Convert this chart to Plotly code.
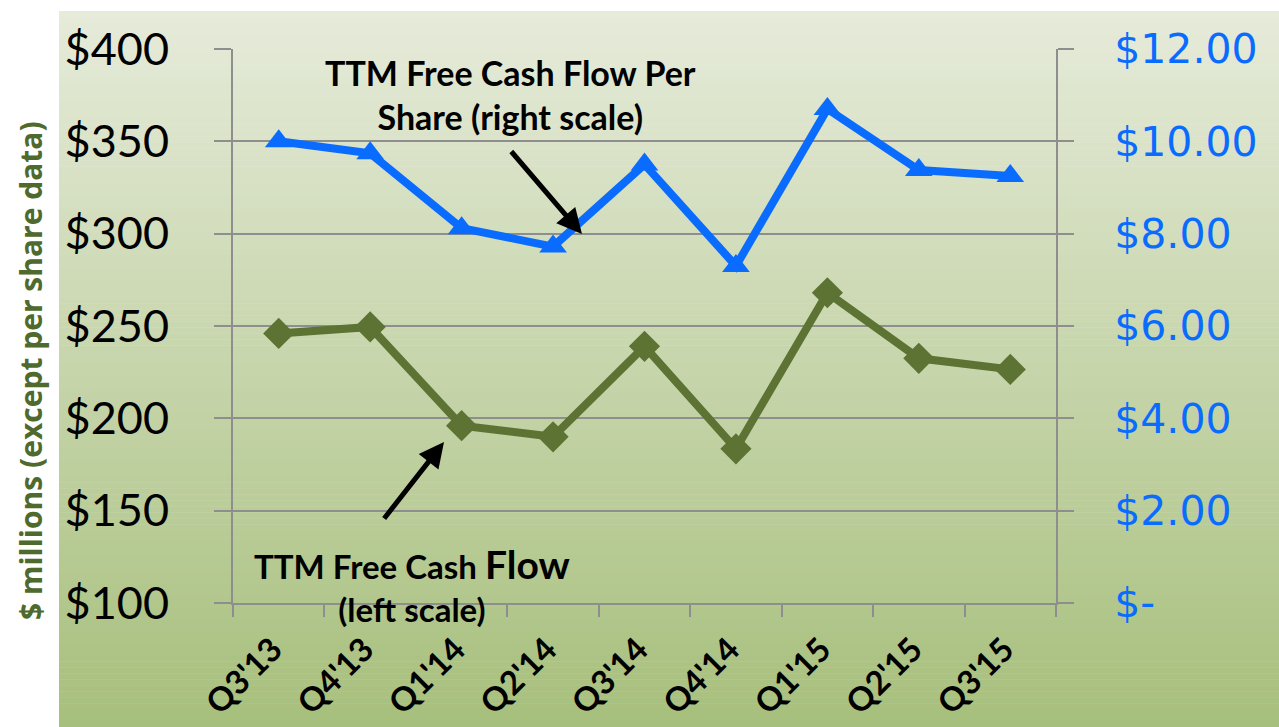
import plotly.graph_objects as go

categories = ["Q3'13", "Q4'13", "Q1'14", "Q2'14", "Q3'14", "Q4'14", "Q1'15", "Q2'15", "Q3'15"]
fcf_millions = [246, 249.5, 196, 190, 239, 183.5, 268, 232.5, 226.5]
fcf_per_share = [10.0, 9.74, 8.12, 7.72, 9.5, 7.3, 10.7, 9.38, 9.25]
left_ticks = [100, 150, 200, 250, 300, 350, 400]
left_tick_text = ["$100", "$150", "$200", "$250", "$300", "$350", "$400"]
right_ticks = [0, 2, 4, 6, 8, 10, 12]
right_tick_text = ["$-", "$2.00", "$4.00", "$6.00", "$8.00", "$10.00", "$12.00"]

W, H = 1279, 727
L, R, T, B = 233, 1279 - 1056, 49, 727 - 603
PW, PH = W - L - R, H - T - B

def px_x(p):
    return (p - L) / PW

def px_y(p):
    return (H - B - p) / PH

GREEN = "#5C7334"
BLUE = "#0A6CFF"
GRID = "#8E8E8E"

fig = go.Figure()
fig.add_trace(go.Scatter(
    x=categories, y=fcf_millions, mode="lines+markers",
    line=dict(color=GREEN, width=8),
    marker=dict(symbol="diamond", size=24, color=GREEN),
    yaxis="y", showlegend=False, hoverinfo="x+y"))
fig.add_trace(go.Scatter(
    x=categories, y=fcf_per_share, mode="lines+markers",
    line=dict(color=BLUE, width=8),
    marker=dict(symbol="triangle-up", size=24, color=BLUE),
    yaxis="y2", showlegend=False, hoverinfo="x+y"))

# background gradient bands
top_c = (230, 235, 218)
bot_c = (167, 191, 124)
y0p, y1p = 11, 727
n = 120
shapes = []
for i in range(n):
    a = y0p + (y1p - y0p) * i / n
    b = y0p + (y1p - y0p) * (i + 1) / n
    t = (i + 0.5) / n
    c = tuple(round(top_c[k] + (bot_c[k] - top_c[k]) * t) for k in range(3))
    shapes.append(dict(type="rect", xref="paper", yref="paper",
                       x0=px_x(59), x1=px_x(1279 + 5), y0=px_y(b + 0.5), y1=px_y(a),
                       fillcolor="rgb(%d,%d,%d)" % c, line=dict(width=0), layer="below"))

anns = [
    dict(xref="paper", yref="paper", x=px_x(510), y=px_y(95), xanchor="center", yanchor="middle",
         text="TTM Free Cash Flow Per<br>Share (right scale)", showarrow=False,
         font=dict(family="Lato", size=34, color="black", weight="bold"), align="center"),
    dict(xref="paper", yref="paper", x=px_x(412), y=px_y(585), xanchor="center", yanchor="middle",
         text="TTM Free Cash <span style='font-size:39px'>Flow</span><br>(left scale)", showarrow=False,
         font=dict(family="Lato", size=33, color="black", weight="bold"), align="center"),
    dict(xref="paper", yref="paper", x=px_x(582), y=px_y(234), text="",
         showarrow=True, ax=-72, ay=-84, arrowhead=2, arrowsize=1.0, arrowwidth=5, arrowcolor="black"),
    dict(xref="paper", yref="paper", x=px_x(444), y=px_y(442), text="",
         showarrow=True, ax=-61, ay=78, arrowhead=2, arrowsize=1.0, arrowwidth=5, arrowcolor="black"),
    dict(xref="paper", yref="paper", x=px_x(30), y=px_y(371), xanchor="center", yanchor="middle",
         text="$ millions (except per share data)", showarrow=False, textangle=-90,
         font=dict(family="Open Sans", size=30, color="#4E6A2C", weight="bold")),
]

fig.update_layout(
    width=W, height=H,
    margin=dict(l=L, r=R, t=T, b=B, autoexpand=False),
    paper_bgcolor="white", plot_bgcolor="rgba(0,0,0,0)",
    shapes=shapes, annotations=anns, showlegend=False,
    xaxis=dict(type="category", tickson="boundaries", ticks="outside", ticklen=12,
               tickcolor=GRID, tickwidth=2, showline=True, linecolor=GRID, linewidth=2,
               showgrid=False, tickangle=-45,
               tickfont=dict(family="Lato", size=33, color="black", weight="bold"),
               ticklabelstandoff=12, ticklabelshift=-6,
               range=[-0.5, 8.5]),
    yaxis=dict(range=[100, 400], tickvals=left_ticks, ticktext=left_tick_text,
               ticks="outside", ticklen=17, tickcolor=GRID, tickwidth=2,
               showline=True, linecolor=GRID, linewidth=2, mirror=False,
               showgrid=True, gridcolor=GRID, gridwidth=2, zeroline=False,
               tickfont=dict(family="Lato", size=45, color="black"),
               ticklabelstandoff=36),
    yaxis2=dict(range=[0, 12], tickvals=right_ticks, ticktext=right_tick_text,
                overlaying="y", side="right", ticks="outside", ticklen=16,
                tickcolor=GRID, tickwidth=2, showline=True, linecolor=GRID, linewidth=2,
                showgrid=False, zeroline=False,
                tickfont=dict(family="DejaVu Sans", size=41, color=BLUE),
                ticklabelstandoff=32),
)

fig.write_html("out.html", config={"displayModeBar": False},
               post_script="document.body.style.margin='0';")
